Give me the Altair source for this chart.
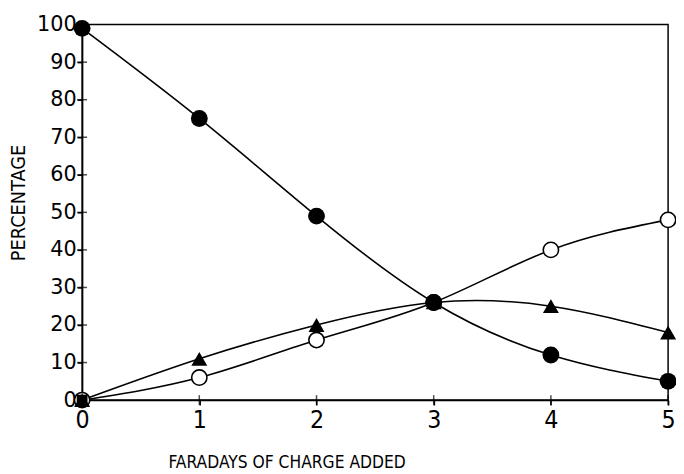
import altair as alt
import pandas as pd

faradays = [0, 1, 2, 3, 4, 5]
filled_circles = [99, 75, 49, 26, 12, 5]
open_circles = [0, 6, 16, 26, 40, 48]
triangles = [0, 11, 20, 26, 25, 18]
square_x = [0, 3]
square_y = [0, 26]
x_ticks = [0, 1, 2, 3, 4, 5]
y_ticks = [0, 10, 20, 30, 40, 50, 60, 70, 80, 90, 100]

rows = []
for name, vals in [("filled", filled_circles), ("open", open_circles), ("tri", triangles)]:
    for x, v in zip(faradays, vals):
        rows.append({"x": x, "y": v, "series": name})
df = pd.DataFrame(rows)
sq = pd.DataFrame({"x": square_x, "y": square_y})
yt = pd.DataFrame({"y": y_ticks, "x": [0] * len(y_ticks)})
xt = pd.DataFrame({"x": x_ticks, "y": [0] * len(x_ticks)})

NARROW = "Liberation Sans Narrow, DejaVu Sans Condensed, Liberation Sans, sans-serif"

xscale = alt.Scale(domain=[0, 5], nice=False)
yscale = alt.Scale(domain=[0, 100], nice=False)

xenc = alt.X("x:Q", scale=xscale, axis=alt.Axis(
    values=x_ticks, format="d", title="FARADAYS OF CHARGE ADDED",
    grid=False, tickSize=5, labelPadding=3, labelFont=NARROW, labelFontSize=25,
    labelOverlap=False, labelFlush=False,
    titleFont=NARROW, titleFontSize=17.5, titleFontWeight="normal",
    titleX=207, titleY=63, titleBaseline="middle", titleAlign="center",
    domainColor="black", tickColor="black", domainWidth=1.5, tickWidth=1.5,
    labelColor="black", titleColor="black"))
yenc = alt.Y("y:Q", scale=yscale, axis=alt.Axis(
    values=y_ticks, format="d", title="PERCENTAGE", grid=False, tickSize=5, labelPadding=1,
    labelFont="DejaVu Sans", labelFontSize=21, labelOverlap=False, labelFlush=False,
    titleFont=NARROW, titleFontSize=20, titleFontWeight="normal",
    titleX=-64, titleY=180, titleBaseline="middle", titleAlign="center", titleAngle=270,
    domainColor="black", tickColor="black", domainWidth=1.5, tickWidth=1.5,
    labelColor="black", titleColor="black"))

base = alt.Chart(df)

lines = base.mark_line(color="black", strokeWidth=1.6, interpolate="natural").encode(
    x=xenc, y=yenc, detail="series:N")

filled_pts = base.transform_filter(alt.datum.series == "filled").mark_point(
    shape="circle", filled=True, color="black", size=290, opacity=1).encode(x=xenc, y=yenc)

open_pts = base.transform_filter(alt.datum.series == "open").mark_point(
    shape="circle", filled=False, fill="white", stroke="black", strokeWidth=1.6,
    size=240, opacity=1, fillOpacity=1).encode(x=xenc, y=yenc)

tri_pts = base.transform_filter(alt.datum.series == "tri").mark_point(
    shape="triangle-up", filled=True, color="black", size=260, opacity=1).encode(x=xenc, y=yenc)

sq_pts = alt.Chart(sq).mark_point(
    shape="square", filled=True, color="black", size=120, opacity=1).encode(x=xenc, y=yenc)

ytick_in = alt.Chart(yt).mark_tick(orient="horizontal", color="black", size=10, thickness=1.5).encode(
    x=xenc, y=yenc)
xtick_in = alt.Chart(xt).mark_tick(orient="vertical", color="black", size=10, thickness=1.5).encode(
    x=xenc, y=yenc)

chart = alt.layer(lines, ytick_in, xtick_in, open_pts, tri_pts, filled_pts, sq_pts).properties(
    width=593, height=380,
    autosize=alt.AutoSizeParams(type="none"),
    padding={"left": 75, "top": 14, "right": 8, "bottom": 72},
    background="white",
).configure_view(stroke="black", strokeWidth=1.5)

chart.save("out.html", embed_options={"renderer": "svg", "actions": False})
